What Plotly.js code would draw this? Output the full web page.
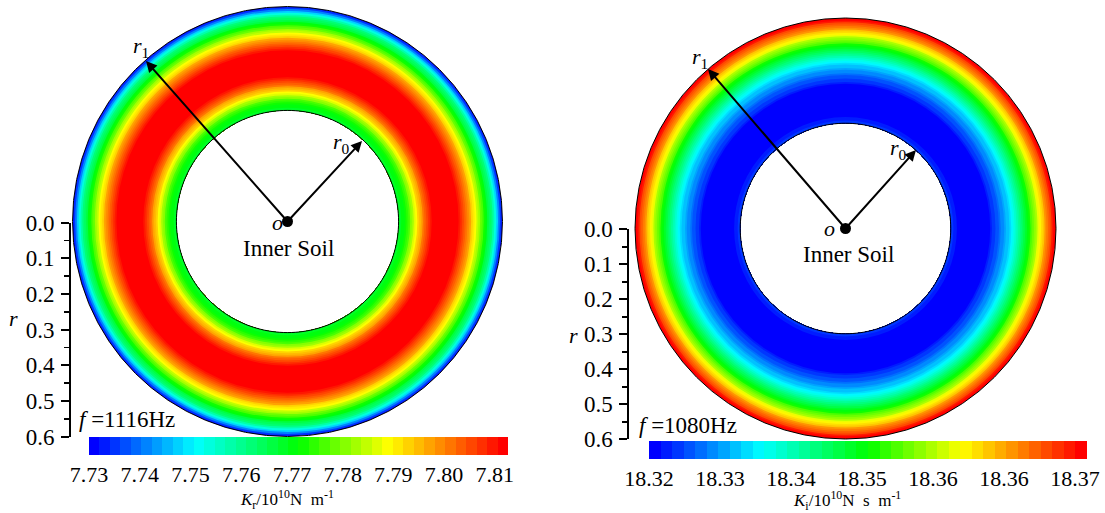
<!DOCTYPE html>
<html><head><meta charset="utf-8">
<script src="https://cdn.plot.ly/plotly-3.0.1.min.js"></script>
<style>html,body{margin:0;padding:0;background:#fff}#chart{width:1105px;height:513px}</style>
</head><body><div id="chart"></div>
<script>
// ---------- data ----------
const radiusLeft = [0.310,0.315,0.320,0.325,0.330,0.335,0.340,0.345,0.350,0.355,
  0.360,0.365,0.370,0.375,0.380,0.385,0.390,0.395,0.400,0.405,
  0.410,0.415,0.420,0.425,0.430,0.435,0.440,0.445,0.450,0.455,
  0.460,0.465,0.470,0.475,0.480,0.485,0.490,0.495,0.500,0.505,
  0.510,0.515,0.520,0.525,0.530,0.535,0.540,0.545,0.550,0.555,
  0.560,0.565,0.570,0.575,0.580,0.585,0.590,0.595,0.600];
const KrLeft = [7.768,7.769,7.770,7.771,7.773,7.775,7.777,7.780,7.783,7.786,
  7.789,7.792,7.795,7.798,7.801,7.803,7.805,7.807,7.809,7.811,
  7.812,7.813,7.814,7.814,7.815,7.815,7.815,7.815,7.815,7.814,
  7.814,7.813,7.812,7.811,7.810,7.808,7.806,7.804,7.802,7.800,
  7.797,7.794,7.791,7.788,7.785,7.782,7.779,7.776,7.773,7.770,
  7.767,7.764,7.761,7.757,7.753,7.748,7.742,7.736,7.730];

const radiusRight = [0.300,0.305,0.310,0.315,0.320,0.325,0.330,0.335,0.340,0.345,
  0.350,0.355,0.360,0.365,0.370,0.375,0.380,0.385,0.390,0.395,
  0.400,0.405,0.410,0.415,0.420,0.425,0.430,0.435,0.440,0.445,
  0.450,0.455,0.460,0.465,0.470,0.475,0.480,0.485,0.490,0.495,
  0.500,0.505,0.510,0.515,0.520,0.525,0.530,0.535,0.540,0.545,
  0.550,0.555,0.560,0.565,0.570,0.575,0.580,0.585,0.590,0.595,0.600];
const KiRight = [18.3240,18.3233,18.3226,18.3220,18.3214,18.3209,18.3205,18.3201,18.3198,18.3196,
  18.3194,18.3193,18.3192,18.3192,18.3193,18.3194,18.3195,18.3196,18.3197,18.3198,
  18.3200,18.3207,18.3214,18.3222,18.3230,18.3238,18.3246,18.3255,18.3264,18.3274,
  18.3284,18.3294,18.3304,18.3314,18.3324,18.3335,18.3346,18.3361,18.3376,18.3391,
  18.3406,18.3421,18.3437,18.3453,18.3469,18.3485,18.3502,18.3520,18.3538,18.3556,
  18.3574,18.3592,18.3610,18.3628,18.3646,18.3664,18.3682,18.3700,18.3718,18.3736,18.3750];

const krTickVals = [7.73,7.74,7.75,7.76,7.77,7.78,7.79,7.80,7.81];
const krTickText = ['7.73','7.74','7.75','7.76','7.77','7.78','7.79','7.80','7.81'];
const kiTickVals = [18.32,18.3288,18.3376,18.3464,18.3552,18.364,18.3728];
const kiTickText = ['18.32','18.33','18.34','18.35','18.36','18.36','18.37'];
const krRange = [7.73, 7.8126];
const kiRange = [18.32, 18.3743];

const rTickVals = [0,0.1,0.2,0.3,0.4,0.5,0.6];
const rTickText = ['0.0','0.1','0.2','0.3','0.4','0.5','0.6'];
const rMinorVals = [0.05,0.15,0.25,0.35,0.45,0.55];

// ---------- styling helpers ----------
const W = 1105, H = 513;
const px = x => x / W, py = y => 1 - y / H;
const FONT = 'Liberation Serif, Times New Roman, serif';

function rainbow(t) {
  const stops = [[0,[0,0,255]],[0.25,[0,255,255]],[0.5,[0,255,0]],[0.72,[255,255,0]],[1,[255,0,0]]];
  for (let k = 0; k < stops.length - 1; k++) {
    const [a, ca] = stops[k], [b, cb] = stops[k+1];
    if (t <= b) {
      const f = (t - a) / (b - a);
      const c = ca.map((v, j) => Math.round(v + (cb[j] - v) * f));
      return 'rgb(' + c.join(',') + ')';
    }
  }
  return 'rgb(255,0,0)';
}
function stepScale(n) {
  const cs = [];
  for (let i = 0; i < n; i++) {
    const c = rainbow(i / (n - 1));
    cs.push([i / n, c]); cs.push([(i + 1) / n, c]);
  }
  return cs;
}

function ringTrace(radius, values, sub, range, nBands, tickvals, ticktext, cb) {
  const inner = radius[0], outer = radius[radius.length - 1];
  const half = (radius[1] - radius[0]) / 2;
  const r = [], base = [], color = [];
  for (let i = radius.length - 1; i >= 0; i--) {
    const top = Math.min(radius[i] + half, outer);
    base.push(inner); r.push(top - inner); color.push(values[i]);
  }
  return {
    type: 'barpolar', subplot: sub, r: r, base: base,
    theta: r.map(() => 0), width: r.map(() => 360),
    hoverinfo: 'skip',
    marker: {
      color: color, colorscale: stepScale(nBands), cmin: range[0], cmax: range[1],
      line: {width: 0}, showscale: true,
      colorbar: {
        orientation: 'h', x: cb.x, xanchor: 'center', y: cb.y, yanchor: 'top',
        len: cb.len, lenmode: 'pixels', thickness: 18, thicknessmode: 'pixels',
        xpad: 0, ypad: 0, outlinewidth: 0, ticks: '', ticklen: 0,
        tickmode: 'array', tickvals: tickvals, ticktext: ticktext,
        tickfont: {family: FONT, size: 22, color: '#000'}
      }
    }
  };
}
function circleTrace(radius, sub) {
  const th = [];
  for (let a = 0; a <= 360; a += 2) th.push(a);
  return {type: 'scatterpolar', subplot: sub, mode: 'lines', r: th.map(() => radius[0]), theta: th,
    line: {color: '#000', width: 1}, hoverinfo: 'skip', showlegend: false};
}
function dotTrace(sub) {
  return {type: 'scatterpolar', subplot: sub, mode: 'markers', r: [0], theta: [0],
    marker: {color: '#000', size: 11}, hoverinfo: 'skip', showlegend: false};
}

const data = [
  ringTrace(radiusLeft, KrLeft, 'polar', krRange, 40, krTickVals, krTickText,
    {x: px(298.5), y: py(437), len: 419}),
  circleTrace(radiusLeft, 'polar'),
  dotTrace('polar'),
  ringTrace(radiusRight, KiRight, 'polar2', kiRange, 38, kiTickVals, kiTickText,
    {x: px(868), y: py(440.5), len: 438}),
  circleTrace(radiusRight, 'polar2'),
  dotTrace('polar2'),
  {type: 'scatter', x: [], y: [], xaxis: 'x', yaxis: 'y', showlegend: false},
  {type: 'scatter', x: [], y: [], xaxis: 'x2', yaxis: 'y2', showlegend: false}
];

function polarLayout(x0, x1, y0, y1) {
  return {
    domain: {x: [px(x0), px(x1)], y: [py(y1), py(y0)]},
    bgcolor: 'rgba(0,0,0,0)', barmode: 'overlay',
    radialaxis: {range: [0, 0.6], autorange: false, visible: false, showgrid: false},
    angularaxis: {showline: true, linecolor: '#000', linewidth: 1, showgrid: false,
      showticklabels: false, ticks: ''}
  };
}
function rAxis(top, bottom, xpos) {
  return {
    domain: [py(bottom), py(top)], range: [0.6, 0], autorange: false,
    anchor: 'free', position: px(xpos), side: 'left',
    showline: true, linecolor: '#000', linewidth: 2,
    ticks: 'outside', ticklen: 8, tickwidth: 2, tickcolor: '#000',
    tickmode: 'array', tickvals: rTickVals, ticktext: rTickText,
    ticklabelstandoff: 2,
    minor: {tickmode: 'array', tickvals: rMinorVals, ticks: 'outside', ticklen: 5, tickwidth: 1.5, tickcolor: '#000', showgrid: false},
    showgrid: false, zeroline: false,
    tickfont: {family: FONT, size: 23, color: '#000'}
  };
}
function txt(x, y, text, size, extra) {
  return Object.assign({xref: 'paper', yref: 'paper', x: px(x), y: py(y), text: text,
    showarrow: false, xanchor: 'center', yanchor: 'middle',
    font: {family: FONT, size: size, color: '#000'}}, extra || {});
}
function arrow(hx, hy, tx, ty) {
  return {xref: 'paper', yref: 'paper', x: px(hx), y: py(hy), ax: tx - hx, ay: ty - hy,
    text: '', showarrow: true, arrowhead: 2, arrowsize: 1.1, arrowwidth: 2,
    arrowcolor: '#000', standoff: 0, startstandoff: 0};
}

const layout = {
  width: W, height: H, margin: {l: 0, r: 0, t: 0, b: 0},
  paper_bgcolor: '#fff', plot_bgcolor: 'rgba(0,0,0,0)', showlegend: false,
  font: {family: FONT, color: '#000'},
  polar: polarLayout(72.5, 502.5, 6.5, 436.5),
  polar2: polarLayout(635, 1056, 18, 439),
  xaxis: {domain: [0, 0.001], visible: false, anchor: 'y'},
  xaxis2: {domain: [0.5, 0.501], visible: false, anchor: 'y2'},
  yaxis: rAxis(222.7, 436.7, 70),
  yaxis2: rAxis(229.3, 439.3, 628.3),
  annotations: [
    arrow(146, 61, 287.5, 221.5),
    arrow(362, 141, 287.5, 221.5),
    arrow(708, 69, 845.5, 228.5),
    arrow(916, 150, 845.5, 228.5),
    txt(141, 47, '<i>r</i><sub>1</sub>', 22),
    txt(341, 143, '<i>r</i><sub>0</sub>', 22),
    txt(700, 58, '<i>r</i><sub>1</sub>', 22),
    txt(898, 149, '<i>r</i><sub>0</sub>', 22),
    txt(277, 222, '<i>o</i>', 22),
    txt(829, 228, '<i>o</i>', 22),
    txt(288, 248, 'Inner Soil', 23),
    txt(848, 254, 'Inner Soil', 23),
    txt(127, 419, '<i>f</i> =1116Hz', 23),
    txt(688, 425, '<i>f</i> =1080Hz', 23),
    txt(13, 318, '<i>r</i>', 22),
    txt(573, 335, '<i>r</i>', 22),
    txt(287, 499, '<i>K</i><sub>r</sub>/10<sup>10</sup>N\u00a0\u00a0m<sup>-1</sup>', 17),
    txt(847, 500, '<i>K</i><sub>i</sub>/10<sup>10</sup>N\u00a0\u00a0s\u00a0\u00a0m<sup>-1</sup>', 17)
  ]
};

Plotly.newPlot('chart', data, layout, {staticPlot: true, displayModeBar: false});
</script>
</body></html>
